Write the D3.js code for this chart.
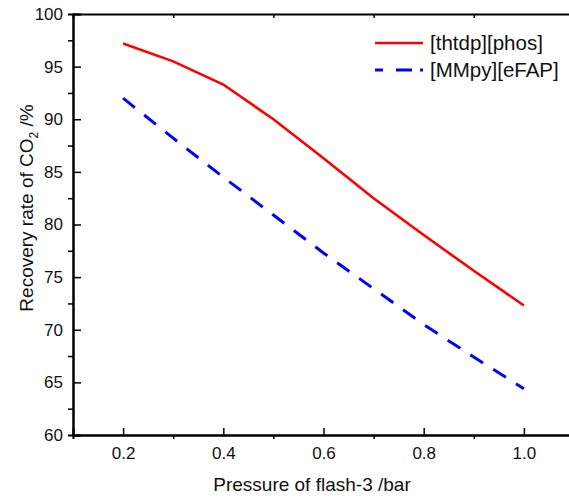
<!DOCTYPE html>
<html>
<head>
<meta charset="utf-8">
<script src="https://cdn.jsdelivr.net/npm/d3@7"></script>
<style>
    body { margin: 0; background: #fff; }
    svg { display: block; font-family: "Liberation Sans", Arial, sans-serif; }
</style>
</head>
<body>
<script>
    // Data
    var pressure = [0.2, 0.3, 0.4, 0.5, 0.6, 0.7, 0.8, 0.9, 1.0];
    var thtdpPhos = [97.2, 95.5, 93.3, 90.0, 86.3, 82.5, 79.0, 75.6, 72.3];
    var mmpyEfap = [92.0, 88.2, 84.5, 80.9, 77.3, 73.9, 70.5, 67.4, 64.4];
    var seriesNames = ['[thtdp][phos]', '[MMpy][eFAP]'];
    var xMajorTicks = [0.2, 0.4, 0.6, 0.8, 1.0];
    var xMinorTicks = [0.3, 0.5, 0.7, 0.9];
    var yMajorTicks = [60, 65, 70, 75, 80, 85, 90, 95, 100];
    var yMinorTicks = [62.5, 67.5, 72.5, 77.5, 82.5, 87.5, 92.5, 97.5];

    (function () {
        var width = 569,
            height = 499,
            plotLeft = 73,
            plotTop = 14,
            plotBottom = 435;

        var svg = d3.select('body')
            .append('svg')
            .attr('width', width)
            .attr('height', height);

        var x = d3.scaleLinear()
            .domain([0.1, 1.1])
            .range([plotLeft, plotLeft + 501]);

        var y = d3.scaleLinear()
            .domain([60, 100])
            .range([plotBottom, plotTop]);

        // Bottom axis: major ticks point inward, minor outward
        var xAxis = svg.append('g')
            .attr('transform', 'translate(0,' + plotBottom + ')');
        xAxis.call(d3.axisBottom(x).tickValues(xMajorTicks).tickSize(-7).tickPadding(12)
            .tickFormat(d3.format('.1f')));
        xAxis.append('g').call(d3.axisBottom(x).tickValues(xMinorTicks).tickSize(4).tickFormat(''));

        // Top axis with small inward ticks
        var xTop = svg.append('g')
            .attr('transform', 'translate(0,' + plotTop + ')');
        xTop.call(d3.axisTop(x).tickValues(xMinorTicks).tickSize(-4).tickFormat(''));

        // Left axis
        var yAxis = svg.append('g')
            .attr('transform', 'translate(' + plotLeft + ',0)');
        yAxis.call(d3.axisLeft(y).tickValues(yMajorTicks).tickSize(-8).tickPadding(10));
        yAxis.append('g').call(d3.axisLeft(y).tickValues(yMinorTicks).tickSize(5).tickFormat(''));

        svg.selectAll('.domain')
            .attr('stroke', '#000')
            .attr('stroke-width', 2);
        svg.selectAll('.tick line')
            .attr('stroke', '#000')
            .attr('stroke-width', 1.5);
        svg.selectAll('.tick text')
            .attr('fill', '#111')
            .style('font-size', '17px');

        // Lines
        var line = d3.line()
            .x(function (d, i) { return x(pressure[i]); })
            .y(function (d) { return y(d); });

        svg.append('path')
            .datum(thtdpPhos)
            .attr('d', line)
            .attr('fill', 'none')
            .attr('stroke', '#ff0000')
            .attr('stroke-width', 2.6);

        svg.append('path')
            .datum(mmpyEfap)
            .attr('d', line)
            .attr('fill', 'none')
            .attr('stroke', '#0000ff')
            .attr('stroke-width', 3)
            .attr('stroke-dasharray', '15,12');

        // Legend
        var legend = svg.append('g');
        var legendStyles = [
            { color: '#ff0000', dash: null, w: 2.6 },
            { color: '#0000ff', dash: '8,13,16', w: 3 }
        ];
        seriesNames.forEach(function (name, i) {
            var ly = 43 + i * 27;
            legend.append('line')
                .attr('x1', 375).attr('x2', 423)
                .attr('y1', ly).attr('y2', ly)
                .attr('stroke', legendStyles[i].color)
                .attr('stroke-width', legendStyles[i].w)
                .attr('stroke-dasharray', legendStyles[i].dash);
            legend.append('text')
                .attr('x', 430)
                .attr('y', ly + 7)
                .style('font-size', '20.5px')
                .attr('fill', '#111')
                .text(name);
        });

        // Axis titles
        svg.append('text')
            .attr('x', 312)
            .attr('y', 491)
            .attr('text-anchor', 'middle')
            .style('font-size', '19px')
            .attr('fill', '#111')
            .text('Pressure of flash-3 /bar');

        var yTitle = svg.append('text')
            .attr('transform', 'translate(33,208) rotate(-90)')
            .attr('text-anchor', 'middle')
            .style('font-size', '19px')
            .attr('fill', '#111');
        yTitle.append('tspan').text('Recovery rate of CO');
        yTitle.append('tspan').attr('dy', 5).style('font-size', '12px').text('2');
        yTitle.append('tspan').attr('dy', -5).text(' /%');
    })();
</script>
</body>
</html>
